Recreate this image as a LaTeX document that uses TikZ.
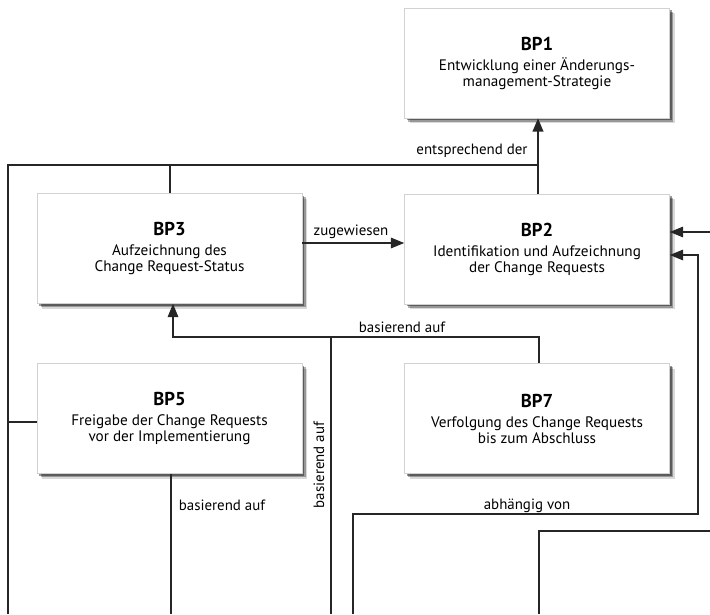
\documentclass[tikz,border=0pt]{standalone}
\usepackage{fontspec}
\setmainfont{PT Sans}
\usetikzlibrary{arrows.meta,shadows,calc}
\begin{document}
\begin{tikzpicture}[x=0.75pt,y=-0.75pt,
  bpbox/.style={draw=gray!35, fill=white, line width=0.5pt,
    minimum width=198.75pt, minimum height=82.5pt, inner sep=0pt,
    align=center, font=\fontsize{11.4}{12}\selectfont,
    drop shadow={shadow xshift=3.8pt, shadow yshift=-3.8pt, opacity=0.15, fill=black},
    drop shadow={shadow xshift=2.8pt, shadow yshift=-2.8pt, opacity=0.3, fill=black},
    drop shadow={shadow xshift=1.8pt, shadow yshift=-1.8pt, opacity=0.4, fill=black}},
  conn/.style={draw=black!85, line width=0.8pt},
  thickconn/.style={draw=black!85, line width=1.5pt},
  tip/.style={-{Triangle[length=10pt,width=8pt]}},
  lbl/.style={font=\fontsize{11.2}{12}\selectfont, inner sep=0pt}]
\useasboundingbox (0,0) rectangle (710,614);

% process boxes
\newcommand{\bptitle}[1]{{\fontsize{14}{15}\selectfont\bfseries #1}\\[3pt]}
\node[bpbox] (bp1) at (537,63)    {\bptitle{BP1}Entwicklung einer Änderungs-\\management-Strategie};
\node[bpbox] (bp3) at (169.5,248.5) {\bptitle{BP3}Aufzeichnung des\\Change Request-Status};
\node[bpbox] (bp2) at (537,249)   {\bptitle{BP2}Identifikation und Aufzeichnung\\der Change Requests};
\node[bpbox] (bp5) at (169.5,418.5) {\bptitle{BP5}Freigabe der Change Requests\\vor der Implementierung};
\node[bpbox] (bp7) at (537,418.5) {\bptitle{BP7}Verfolgung des Change Requests\\bis zum Abschluss};

% loose ends at the picture border
\coordinate (leftbot)  at (8,614);
\coordinate (topjoin)  at (538,165);
\coordinate (rin1)     at (710,232);
\coordinate (rturn)    at (698,514);
\coordinate (abhbot)   at (353,614);
\coordinate (rout2)    at (710,531);
\coordinate (r2bot)    at (539,614);
\coordinate (basjoin)  at (539,337);
\coordinate (basbot)   at (331,614);
\coordinate (bp5bot)   at (171,614);

% BP2 -> BP1
\draw[thickconn,tip] (bp2.north -| topjoin) -- (bp1.south -| topjoin);
% left trunk joining BP3 and BP5 to the top line
\draw[conn] (leftbot) -- (leftbot |- topjoin) -- (topjoin);
\draw[conn] (bp3.north -| 170,0) -- (170,165);
\draw[conn, line width=1.2pt] (bp5.west |- 0,422) -- (8,422);
\node[lbl] at (472,151) {entsprechend der};

% BP3 -> BP2
\draw[conn,tip] (bp3.east |- 0,243) -- (bp2.west |- 0,243);
\node[lbl] at (351,232) {zugewiesen};

% arrows entering BP2 from the right
\draw[conn,tip] (rin1) -- (bp2.east |- rin1);
\draw[conn,tip] (abhbot) -- (abhbot |- rturn) -- (rturn) -- (698,255) -- (bp2.east |- 0,255);
\node[lbl] at (527,506) {abhängig von};
\draw[conn] (r2bot) -- (r2bot |- rout2) -- (rout2);

% BP7 -> BP3
\draw[conn,tip] (bp7.north -| basjoin) -- (basjoin) -- (173,337) -- (bp3.south -| 173,0);
\node[lbl] at (402,327) {basierend auf};
\draw[conn] (basbot) -- (basbot |- basjoin);
\node[lbl, rotate=90] at (319,465) {basierend auf};

% below BP5
\draw[conn] (bp5.south -| bp5bot) -- (bp5bot);
\node[lbl] at (222,505) {basierend auf};
\end{tikzpicture}
\end{document}
